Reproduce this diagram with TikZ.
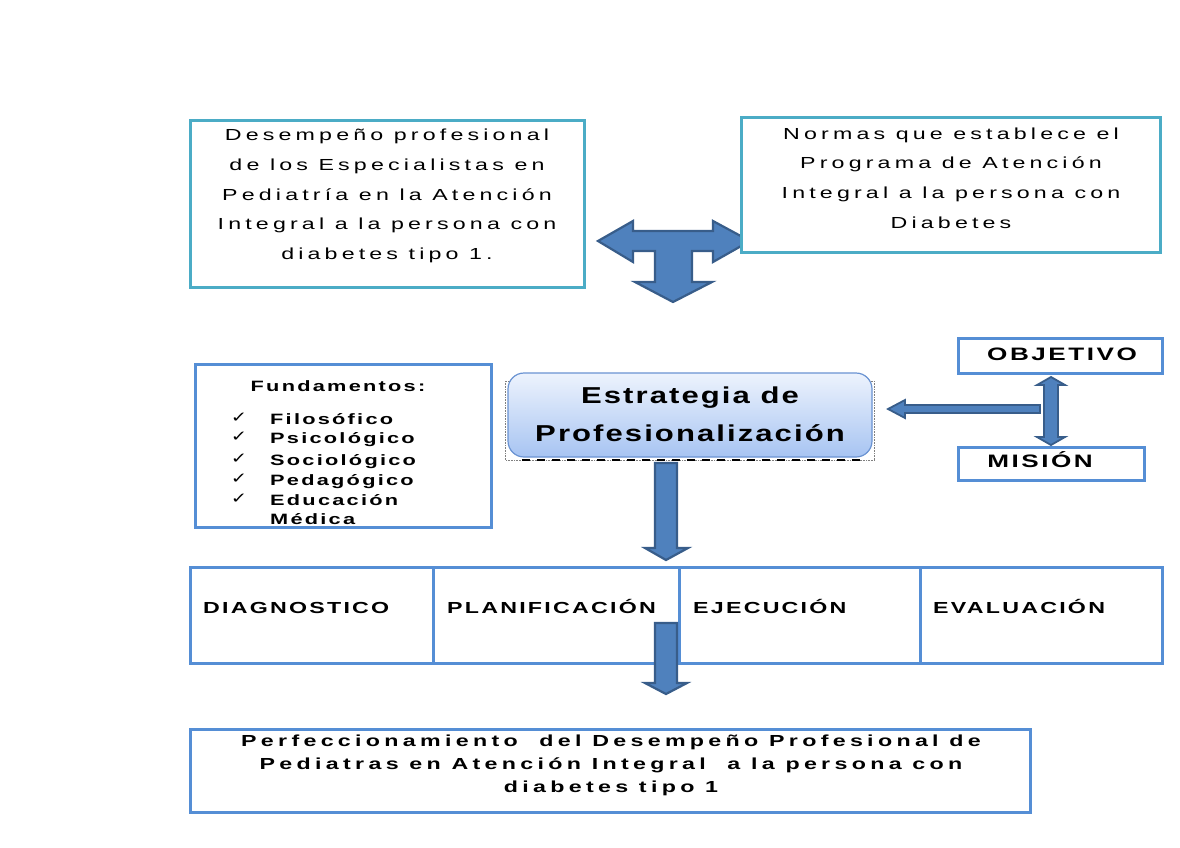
\documentclass[tikz,border=0pt]{standalone}
\usepackage{fontspec}
\setmainfont{Liberation Sans}
\newfontfamily\bodyfont[FakeStretch=1.45, LetterSpace=26]{Liberation Sans}
\newfontfamily\fundfont[FakeStretch=1.45, LetterSpace=15]{Liberation Sans}
\newfontfamily\stagefont[FakeStretch=1.45, LetterSpace=14]{Liberation Sans}
\newfontfamily\keyfont[FakeStretch=1.45, LetterSpace=14]{Liberation Sans}
\newfontfamily\resfont[FakeStretch=1.45, LetterSpace=27]{Liberation Sans}
\newfontfamily\stratfont[FakeStretch=1.35, LetterSpace=9]{Liberation Sans}
\newfontfamily\symfont[FakeStretch=1.3]{DejaVu Sans}
\usetikzlibrary{calc}
\definecolor{tealc}{HTML}{4BACC6}
\definecolor{boxblue}{HTML}{558ED5}
\definecolor{arrfill}{HTML}{4F81BD}
\definecolor{arrdraw}{HTML}{385D8A}
\definecolor{gradtop}{HTML}{EDF3FD}
\definecolor{gradbot}{HTML}{A7C4F2}
\definecolor{stratborder}{HTML}{6A93D2}
\begin{document}
\begin{tikzpicture}[x=1pt,y=-1pt,
  tealbox/.style={draw=tealc, line width=3pt, fill=white, inner sep=0pt},
  bluebox/.style={draw=boxblue, line width=3pt, fill=white, inner sep=0pt},
  blockarrow/.style={fill=arrfill, draw=arrdraw, line width=2.2pt, line join=miter},
  bodytext/.style={font=\bodyfont\fontsize{16}{29.75}\selectfont, align=center, inner sep=0pt},
  fundlbl/.style={font=\fundfont\bfseries\fontsize{15}{20}\selectfont, inner sep=0pt, text height=11pt, text depth=3pt},
  stagelbl/.style={font=\stagefont\bfseries\fontsize{16}{20}\selectfont, inner sep=0pt, text height=11.5pt, text depth=0pt},
  keylbl/.style={font=\keyfont\bfseries\fontsize{18}{20}\selectfont, inner sep=0pt, text height=13pt, text depth=0pt},
  chk/.style={font=\symfont\fontsize{15}{15}\selectfont, inner sep=0pt},
]
\useasboundingbox[fill=white] (0,0) rectangle (1180,847);

% top-left box
\node[tealbox, minimum width=394pt, minimum height=167pt] (desemp) at (387,203.5) {};
\node[bodytext] (desemptxt) at (387,196) {Desempeño profesional\\de los Especialistas en\\Pediatría en la Atención\\Integral a la persona con\\diabetes tipo 1.};

% T-shaped arrow
\coordinate (tl) at (598,241);
\coordinate (tr) at (750,241);
\coordinate (tb) at (673,302);
\draw[blockarrow] (tl) -- (633,221) -- (633,231) -- (713,231) -- (713,221) -- (tr) -- (713,262) -- (713,251)
  -- (692,251) -- (692,282) -- (712,282) -- (tb) -- (635,282) -- (655,282) -- (655,251)
  -- (633,251) -- (633,262) -- cycle;

% top-right box
\node[tealbox, minimum width=419pt, minimum height=135pt] (normas) at (950.5,184.5) {};
\node[bodytext] (normastxt) at (951,178) {Normas que establece el\\Programa de Atención\\Integral a la persona con\\Diabetes};

% Fundamentos box
\node[bluebox, minimum width=296pt, minimum height=163pt] (fund) at (343,445.5) {};
\node[fundlbl] (fundtitle) at (338,387) {Fundamentos:};
\node[chk] (c1) at (239,418) {✓};
\node[chk] (c2) at (239,437) {✓};
\node[chk] (c3) at (239,459) {✓};
\node[chk] (c4) at (239,479) {✓};
\node[chk] (c5) at (239,499) {✓};
\node[fundlbl, anchor=west] (f1) at (270,420) {Filosófico};
\node[fundlbl, anchor=west] (f2) at (270,439) {Psicológico};
\node[fundlbl, anchor=west] (f3) at (270,461) {Sociológico};
\node[fundlbl, anchor=west] (f4) at (270,481) {Pedagógico};
\node[fundlbl, anchor=west] (f5) at (270,501) {Educación};
\node[fundlbl, anchor=west] (f6) at (270,520) {Médica};

% Strategy box
\draw[densely dotted, gray, line width=0.6pt] (505,381) rectangle (874,460);
\node[draw=stratborder, line width=1.2pt, rounded corners=16pt, top color=gradtop, bottom color=gradbot,
  minimum width=364pt, minimum height=84pt, inner sep=0pt] (strat) at (690,415) {};
\draw[black, line width=2pt, dash pattern=on 8pt off 7pt] (522,459.5) -- (866,459.5);
\node[font=\stratfont\bfseries\fontsize{23}{38}\selectfont, align=center, inner sep=0pt] (strattxt) at (690,414) {Estrategia de\\Profesionalización};

% Objetivo / Mision
\node[bluebox, minimum width=204pt, minimum height=35pt] (obj) at (1060,355.5) {};
\node[keylbl] (objtxt) at (1062,354) {OBJETIVO};
\node[bluebox, minimum width=186pt, minimum height=33pt] (mis) at (1051,463.5) {};
\node[keylbl] (mistxt) at (1040,461) {MISIÓN};

% double vertical arrow
\draw[blockarrow, line width=1.8pt] (1051,377) -- (1065,385) -- (1058,385) -- (1058,437) -- (1065,437) -- (1051,445)
  -- (1037,437) -- (1044,437) -- (1044,385) -- (1037,385) -- cycle;
% left arrow to strategy
\draw[blockarrow, line width=1.8pt] (888,409) -- (905,400) -- (905,405) -- (1040,405) -- (1040,413) -- (905,413) -- (905,418) -- cycle;

% down arrow 1
\draw[blockarrow] (655,463) -- (677,463) -- (677,548) -- (688,548) -- (666,560) -- (645,548) -- (655,548) -- cycle;

% process boxes
\node[bluebox, minimum width=243pt, minimum height=96pt] (p1) at (311.5,615) {};
\node[bluebox, minimum width=246pt, minimum height=96pt] (p2) at (556,615) {};
\node[bluebox, minimum width=241pt, minimum height=96pt] (p3) at (799.5,615) {};
\node[bluebox, minimum width=242pt, minimum height=96pt] (p4) at (1041,615) {};
\node[stagelbl, anchor=west] (p1t) at (203,608) {DIAGNOSTICO};
\node[stagelbl, anchor=west] (p2t) at (447,608) {PLANIFICACIÓN};
\node[stagelbl, anchor=west] (p3t) at (693,608) {EJECUCIÓN};
\node[stagelbl, anchor=west] (p4t) at (933,608) {EVALUACIÓN};

% down arrow 2
\draw[blockarrow] (655,623) -- (677,623) -- (677,683) -- (687,683) -- (666,694) -- (645,683) -- (655,683) -- cycle;

% bottom box
\node[bluebox, minimum width=840pt, minimum height=83pt] (res) at (610,770.5) {};
\node[font=\resfont\bfseries\fontsize{16}{23}\selectfont, align=center, inner sep=0pt] (restxt) at (611,765)
  {Perfeccionamiento\ \ del Desempeño Profesional de\\Pediatras en Atención Integral\ \ a la persona con\\diabetes tipo 1};
\end{tikzpicture}
\end{document}
